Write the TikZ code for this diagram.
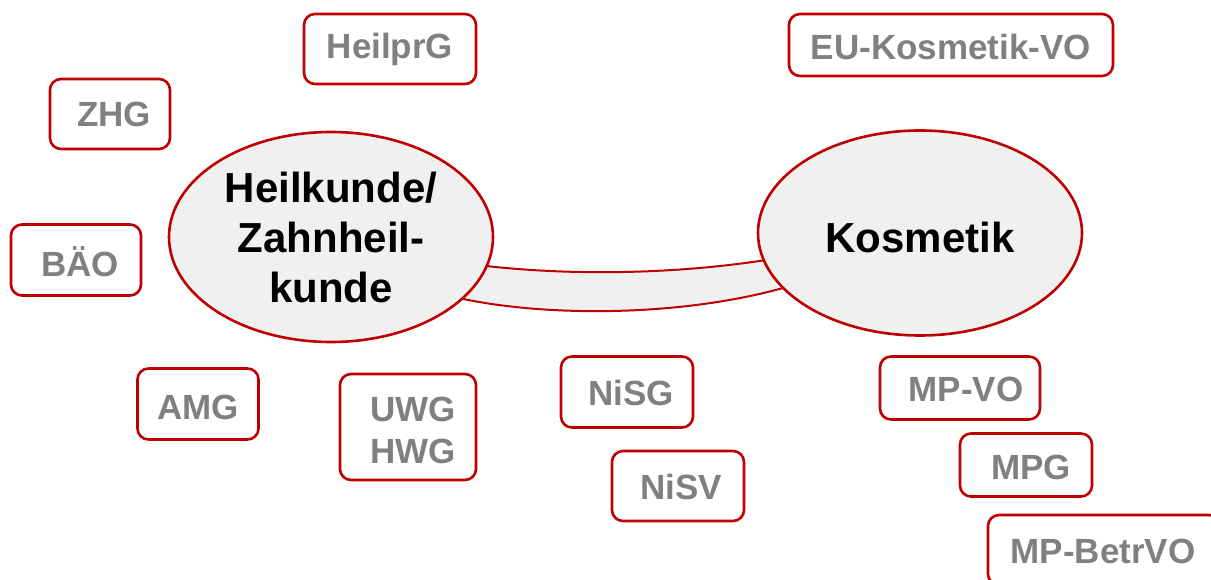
\documentclass[tikz,border=0pt]{standalone}
\usepackage{fontspec}
\setmainfont{Liberation Sans}
\usetikzlibrary{shapes.geometric}
\definecolor{rd}{HTML}{C00000}
\definecolor{gtxt}{HTML}{808080}
\definecolor{lfill}{HTML}{F0F0F0}
\tikzset{
  lawbox/.style={draw=rd, line width=2.6pt, rounded corners=11pt, fill=white, inner sep=0pt},
  lawtxt/.style={text=gtxt, font=\fontsize{35}{42}\selectfont\bfseries, align=center, inner sep=0pt},
  topic/.style={ellipse, draw=rd, line width=2.6pt, fill=lfill, inner sep=0pt},
  topictxt/.style={text=black, font=\fontsize{42}{50}\selectfont\bfseries, align=center, inner sep=0pt},
  bandline/.style={draw=rd, line width=2pt}
}
\begin{document}
\begin{tikzpicture}[x=1pt,y=-1pt]
\useasboundingbox (0,0) rectangle (1211,580);
% band between the two topics
\coordinate (bl1) at (470,264);
\coordinate (br1) at (790,256);
\coordinate (bl2) at (450,296);
\coordinate (br2) at (800,283);
\fill[lfill] (bl1) .. controls (560,276) and (680,276) .. (br1) -- (br2) .. controls (690,318) and (540,318) .. (bl2) -- cycle;
\draw[bandline] (bl1) .. controls (560,276) and (680,276) .. (br1);
\draw[bandline] (bl2) .. controls (540,318) and (690,318) .. (br2);
% topics
\node[topic, minimum width=324pt, minimum height=210pt] (heil) at (331,237) {};
\node[topictxt] (heilt) at (331,237) {Heilkunde/\\Zahnheil-\\kunde};
\node[topic, minimum width=324pt, minimum height=205pt] (kos) at (920,233) {};
\node[topictxt] (kost) at (920,237) {Kosmetik};
% law boxes
\node[lawbox, minimum width=172pt, minimum height=70pt] (hp) at (390,49) {};
\node[lawtxt] at (hp.center) {HeilprG};
\node[lawbox, minimum width=120pt, minimum height=70pt] (zhg) at (110,114) {};
\node[lawtxt] at ([xshift=4pt]zhg.center) {ZHG};
\node[lawbox, minimum width=130pt, minimum height=71pt] (bao) at (76,260) {};
\node[lawtxt] at ([xshift=4pt,yshift=-2pt]bao.center) {BÄO};
\node[lawbox, minimum width=324pt, minimum height=62pt] (eu) at (951,45) {};
\node[lawtxt] at ([yshift=-2pt]eu.center) {EU-Kosmetik-VO};
\node[lawbox, minimum width=121pt, minimum height=71pt] (amg) at (198,404) {};
\node[lawtxt] at ([yshift=-3pt]amg.center) {AMG};
\node[lawbox, minimum width=136pt, minimum height=106pt] (uwg) at (408,427) {};
\node[lawtxt, font=\fontsize{35}{42}\selectfont\bfseries] at ([xshift=5pt,yshift=-3pt]uwg.center) {UWG\\HWG};
\node[lawbox, minimum width=132pt, minimum height=71pt] (nisg) at (627,392) {};
\node[lawtxt] at ([xshift=4pt,yshift=-1pt]nisg.center) {NiSG};
\node[lawbox, minimum width=132pt, minimum height=70pt] (nisv) at (678,486) {};
\node[lawtxt] at ([xshift=3pt,yshift=-1pt]nisv.center) {NiSV};
\node[lawbox, minimum width=160pt, minimum height=63pt] (mpvo) at (960,388) {};
\node[lawtxt] at ([xshift=6pt,yshift=-1pt]mpvo.center) {MP-VO};
\node[lawbox, minimum width=132pt, minimum height=63pt] (mpg) at (1026,465) {};
\node[lawtxt] at ([xshift=5pt,yshift=-2pt]mpg.center) {MPG};
\node[lawbox, minimum width=232pt, minimum height=70pt] (mpb) at (1104,550) {};
\node[lawtxt] at ([xshift=-1pt,yshift=-1pt]mpb.center) {MP-BetrVO};
\end{tikzpicture}
\end{document}
